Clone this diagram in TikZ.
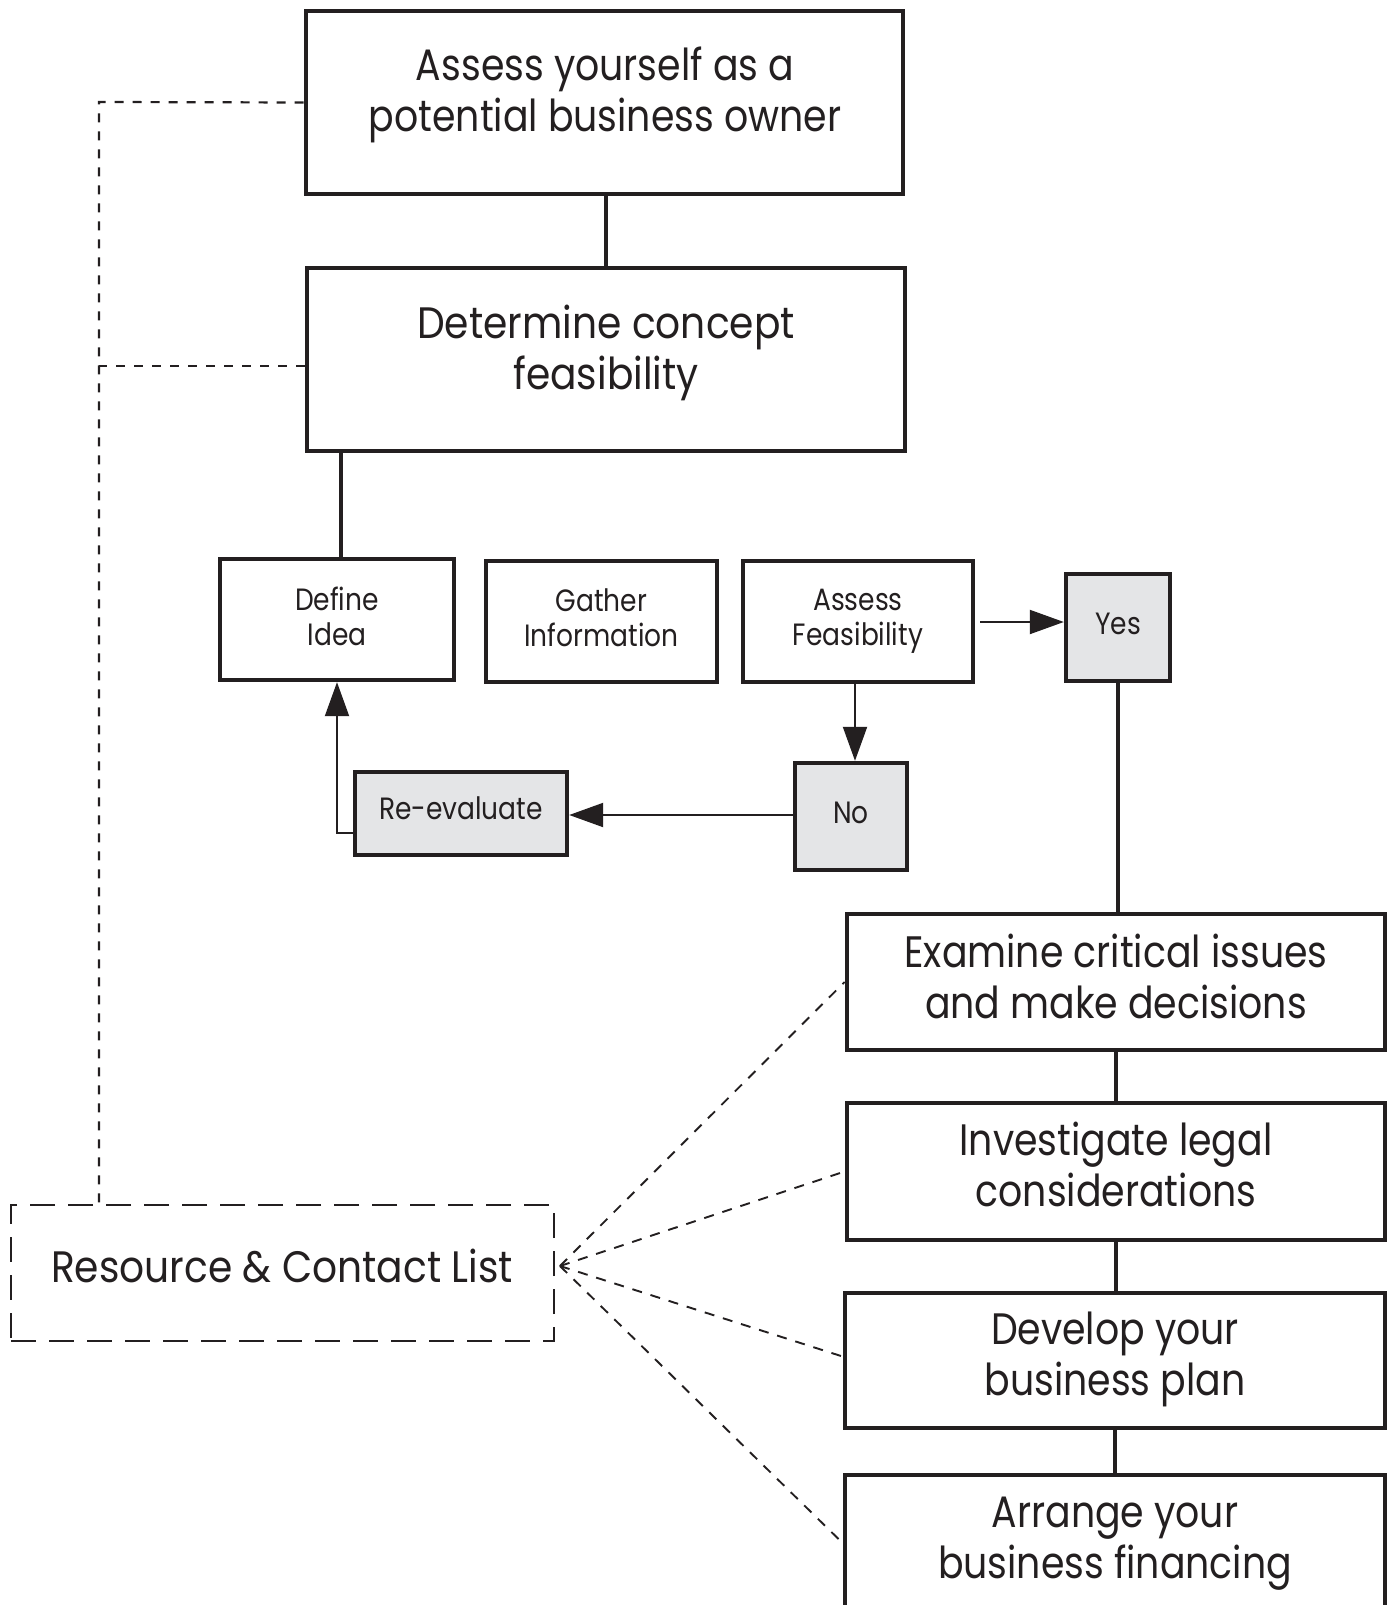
\documentclass[tikz,border=0pt]{standalone}
\usepackage{fontspec}
\newfontfamily\pop[FakeStretch=0.86]{Poppins}
\newfontfamily\popw[FakeStretch=0.89]{Poppins}
\usetikzlibrary{arrows.meta}
\definecolor{ink}{HTML}{231F20}
\definecolor{boxgray}{HTML}{E4E5E7}
\newcommand{\bigfnt}{\fontsize{22}{25.5}\selectfont\pop}
\newcommand{\bigwfnt}{\fontsize{22}{25.5}\selectfont\popw}
\newcommand{\smallfnt}{\fontsize{15.4}{17.5}\selectfont\pop}
\tikzset{
  bigbox/.style={draw=ink, line width=2.4pt, fill=white, inner sep=0pt},
  smallbox/.style={draw=ink, line width=2.2pt, fill=white, inner sep=0pt},
  graybox/.style={smallbox, fill=boxgray},
  bigtxt/.style={align=center, font=\bigfnt, text=ink, inner sep=0pt},
  bigwtxt/.style={bigtxt, font=\bigwfnt},
  smalltxt/.style={align=center, font=\smallfnt, text=ink, inner sep=0pt},
  thickline/.style={draw=ink, line width=2.1pt},
  arr/.style={draw=ink, line width=1pt, -{Triangle[length=17pt,width=12pt]}},
  dashline/.style={draw=ink, line width=1.1pt, dash pattern=on 4.5pt off 4.5pt},
  fanline/.style={draw=ink, line width=0.95pt, dash pattern=on 5pt off 4.5pt},
  resbox/.style={draw=ink, line width=0.95pt, dash pattern=on 12.5pt off 6.5pt, inner sep=0pt}
}
\begin{document}
\begin{tikzpicture}[x=0.5pt,y=-0.5pt]
\useasboundingbox (0,0) rectangle (1390,1605);
\fill[white] (0,0) rectangle (1390,1605);
\clip (0,0) rectangle (1390,1605);

% top boxes
\node[bigbox, minimum width=298.5pt, minimum height=91.5pt] (b1) at (604.5,102.5) {};
\node[bigtxt] (b1t) at (605,95) {Assess yourself as a\\potential business owner};
\node[bigbox, minimum width=299pt, minimum height=91.5pt] (b2) at (606,359.5) {};
\node[bigwtxt] (b2t) at (606,352.5) {Determine concept\\feasibility};

% small boxes
\node[smallbox, minimum width=117pt, minimum height=60.5pt] (def) at (337,619.5) {};
\node[smalltxt] (deft) at (337,616) {Define\\Idea};
\node[smallbox, minimum width=115.5pt, minimum height=60.5pt] (gat) at (601.5,621.5) {};
\node[smalltxt] (gatt) at (601.5,617.5) {Gather\\Information};
\node[smallbox, minimum width=115pt, minimum height=60.5pt] (af) at (858,621.5) {};
\node[smalltxt] (aft) at (858,621) {Assess\\Feasibility};
\node[graybox, minimum width=52pt, minimum height=53.5pt] (yes) at (1118,627.5) {};
\node[smalltxt] (yest) at (1118,623.5) {Yes};
\node[graybox, minimum width=56pt, minimum height=53.5pt] (no) at (851,816.5) {};
\node[smalltxt] (not) at (851,812.5) {No};
\node[graybox, minimum width=106pt, minimum height=41.5pt] (re) at (461,813.5) {};
\node[smalltxt] (ret) at (461,808.5) {Re-evaluate};

% right column
\node[bigbox, minimum width=269pt, minimum height=68pt] (ex) at (1116,982) {};
\node[bigtxt] (ext) at (1116,976) {Examine critical issues\\and make decisions};
\node[bigbox, minimum width=269pt, minimum height=68.5pt] (inv) at (1116,1171.5) {};
\node[bigtxt] (invt) at (1116,1164) {Investigate legal\\considerations};
\node[bigbox, minimum width=270pt, minimum height=67.5pt] (dev) at (1115,1360.5) {};
\node[bigtxt] (devt) at (1115,1359.5) {Develop your\\business plan};
\node[bigbox, minimum width=270pt, minimum height=68pt] (arrg) at (1115,1543) {};
\node[bigtxt] (arrgt) at (1115,1544) {Arrange your\\business financing};

% resource box
\node[resbox, minimum width=271.5pt, minimum height=68pt] (res) at (282.5,1273) {};
\node[bigwtxt] (rest) at (282,1266) {Resource \& Contact List};

% solid connectors
\coordinate (defin) at ([xshift=2pt]def.north);
\draw[thickline] (b2.north |- b1.south) -- (b2.north);
\draw[thickline] (defin |- b2.south) -- (defin);
\draw[thickline] (yes.south) -- (yes.south |- ex.north);
\draw[thickline] (ex.south) -- (ex.south |- inv.north);
\draw[thickline] (inv.south) -- (inv.south |- dev.north);
\draw[thickline] (dev.south) -- (dev.south |- arrg.north);

% arrows
\coordinate (afout) at ([xshift=2.5pt,yshift=-0.25pt]af.east);
\coordinate (afdown) at ([xshift=-1.5pt]af.south);
\coordinate (noout) at ([yshift=0.75pt]no.west);
\coordinate (reout) at ([yshift=-9.75pt]re.west);
\draw[arr] (afout) -- (yes.west |- afout);
\draw[arr] (afdown) -- (afdown |- no.north);
\draw[arr] (noout) -- (noout -| re.east);
\draw[arr] (reout) -| (def.south);

% dashed links on the left
\coordinate (dtop) at (99,102);
\coordinate (b2in) at ([yshift=-3.25pt]b2.west);
\draw[dashline] (b1.west) -- (dtop) -- (dtop |- res.north);
\draw[dashline] (b2in) -- (dtop |- b2in);

% fan from resource box
\coordinate (fan) at (560,1266);
\draw[fanline] (fan) -- (ex.west);
\draw[fanline] (fan) -- (inv.west);
\draw[fanline] (fan) -- ([yshift=2pt]dev.west);
\draw[fanline] (fan) -- (arrg.west);
\end{tikzpicture}
\end{document}
